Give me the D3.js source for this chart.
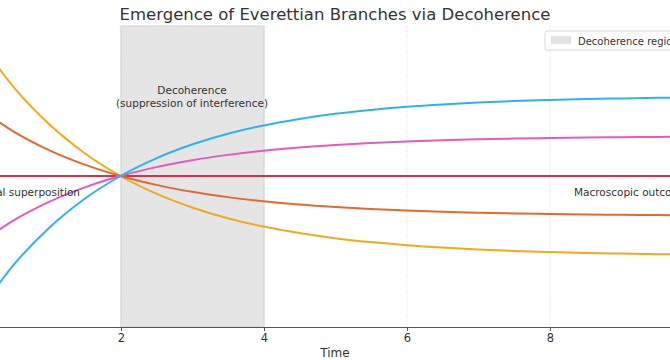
<!DOCTYPE html>
<html>
<head>
<meta charset="utf-8">
<script src="https://cdn.jsdelivr.net/npm/d3@7"></script>
<style>
  body { margin: 0; background: #fff; }
  svg { display: block; font-family: 'DejaVu Sans', sans-serif; }
</style>
</head>
<body>
<svg id="chart" width="670" height="360"></svg>
<script>
// data (values relative to the crossing point)

const times = [0, 0.5, 1, 1.5, 2, 2.5, 3, 3.5, 4, 4.5, 5, 5.5, 6, 6.5, 7, 7.5, 8, 8.5, 9, 9.5, 10];

const branchA = [-1.718, -1.117, -0.649, -0.284, 0, 0.221, 0.393, 0.528, 0.632, 0.713, 0.777, 0.826, 0.865, 0.895, 0.918, 0.936, 0.95, 0.961, 0.97, 0.977, 0.982];
const branchB = [-0.859, -0.559, -0.324, -0.142, 0, 0.111, 0.197, 0.264, 0.316, 0.357, 0.388, 0.413, 0.432, 0.448, 0.459, 0.468, 0.475, 0.48, 0.485, 0.488, 0.491];
const branchC = [0, 0, 0, 0, 0, 0, 0, 0, 0, 0, 0, 0, 0, 0, 0, 0, 0, 0, 0, 0, 0];
const branchD = [0.859, 0.559, 0.324, 0.142, 0, -0.111, -0.197, -0.264, -0.316, -0.357, -0.388, -0.413, -0.432, -0.448, -0.459, -0.468, -0.475, -0.48, -0.485, -0.488, -0.491];
const branchE = [1.718, 1.117, 0.649, 0.284, 0, -0.221, -0.393, -0.528, -0.632, -0.713, -0.777, -0.826, -0.865, -0.895, -0.918, -0.936, -0.95, -0.961, -0.97, -0.977, -0.982];

const seriesList = [branchC, branchE, branchD, branchB, branchA];
const seriesColors = ['#d6304a', '#f0aa1c', '#e4692e', '#e25cbf', '#2cb4ea'];

const xTicks = [2, 4, 6, 8];
const decoStart = 2;
const decoEnd = 4;

// layout (the picture is a crop, so the plot runs past the edges)

const plotTop = 26;
const plotBottom = 327;

const xScale = d3.scaleLinear().domain([0, 10]).range([-22.5, 692.5]);
const yScale = d3.scaleLinear().domain([-1.8875, 1.875]).range([plotBottom, plotTop]);

const svg = d3.select('#chart');

// grid lines
svg
  .append('g')
  .selectAll('line')
  .data(xTicks)
  .enter()
  .append('line')
  .attr('x1', (d) => xScale(d) + 0.5)
  .attr('x2', (d) => xScale(d) + 0.5)
  .attr('y1', plotTop)
  .attr('y2', plotBottom)
  .attr('stroke', '#d4d4d4')
  .attr('stroke-width', 0.8)
  .attr('stroke-dasharray', '1,1.5');

// decoherence band
svg
  .append('rect')
  .attr('x', xScale(decoStart) + 0.5)
  .attr('y', plotTop)
  .attr('width', xScale(decoEnd) - xScale(decoStart))
  .attr('height', plotBottom - plotTop)
  .attr('fill', '#e5e5e5')
  .attr('stroke', '#d0d0d0')
  .attr('stroke-width', 1);

// branches
const line = d3
  .line()
  .x((d, i) => xScale(times[i]))
  .y((d) => yScale(d))
  .curve(d3.curveMonotoneX);

svg
  .append('g')
  .selectAll('path')
  .data(seriesList)
  .enter()
  .append('path')
  .attr('d', (d) => line(d))
  .attr('fill', 'none')
  .attr('stroke', (d, i) => seriesColors[i])
  .attr('stroke-width', 2);

// x axis
const xAxis = d3.axisBottom(xScale).tickValues(xTicks).tickSize(4).tickPadding(3);
const gx = svg
  .append('g')
  .attr('transform', 'translate(0.5,' + plotBottom + ')')
  .call(xAxis);
gx.select('.domain').attr('stroke', '#555').attr('stroke-width', 1.2);
gx.selectAll('.tick line').attr('stroke', '#555');
gx.selectAll('.tick text')
  .attr('fill', '#333')
  .style('font-size', '11.5px')
  .style('font-family', "'DejaVu Sans', sans-serif");

svg
  .append('text')
  .attr('x', 335)
  .attr('y', 357)
  .attr('text-anchor', 'middle')
  .attr('fill', '#333')
  .style('font-size', '12px')
  .text('Time');

// title
svg
  .append('text')
  .attr('x', 335)
  .attr('y', 20)
  .attr('text-anchor', 'middle')
  .attr('fill', '#333')
  .style('font-size', '16.5px')
  .text('Emergence of Everettian Branches via Decoherence');

// annotations
const note = svg
  .append('text')
  .attr('text-anchor', 'middle')
  .attr('fill', '#333')
  .style('font-size', '10.5px');
note.append('tspan').attr('x', xScale(3)).attr('y', 94).text('Decoherence');
note.append('tspan').attr('x', xScale(3)).attr('y', 107).text('(suppression of interference)');

svg
  .append('text')
  .attr('x', 80)
  .attr('y', 196)
  .attr('text-anchor', 'end')
  .attr('fill', '#333')
  .style('font-size', '10.5px')
  .text('Initial superposition');

svg
  .append('text')
  .attr('x', 574)
  .attr('y', 196)
  .attr('fill', '#333')
  .style('font-size', '10.5px')
  .text('Macroscopic outcomes');

// legend
const legend = svg.append('g').attr('transform', 'translate(545,31)');
legend
  .append('rect')
  .attr('width', 160)
  .attr('height', 19)
  .attr('rx', 2)
  .attr('fill', '#fff')
  .attr('fill-opacity', 0.85)
  .attr('stroke', '#d8d8d8');
legend
  .append('rect')
  .attr('x', 6)
  .attr('y', 5)
  .attr('width', 20)
  .attr('height', 8)
  .attr('fill', '#e3e3e3');
legend
  .append('text')
  .attr('x', 33)
  .attr('y', 13.5)
  .attr('fill', '#333')
  .style('font-size', '10px')
  .text('Decoherence region');
</script>
</body>
</html>
